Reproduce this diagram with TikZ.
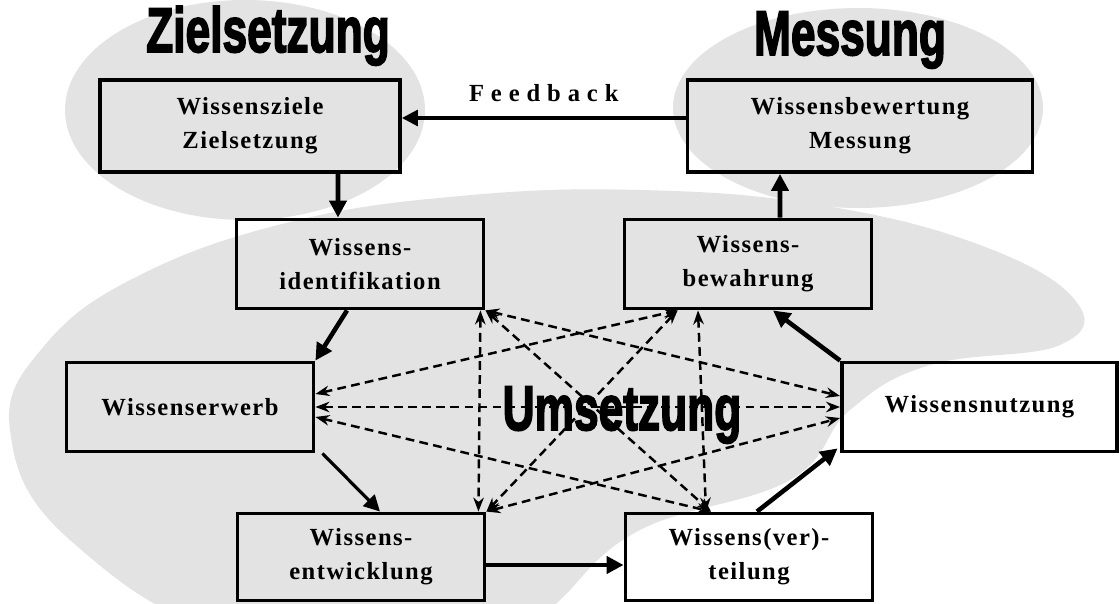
\documentclass[tikz,border=0pt]{standalone}
\usepackage{fontspec}
\setmainfont{Liberation Serif}
\newfontfamily\boxfont{Liberation Serif}[LetterSpace=6]
\newfontfamily\fbfont{Liberation Serif}[LetterSpace=28]
\newfontfamily\titlefont{Liberation Sans}[UprightFont={* Bold}, FakeBold=3]
\usepackage{graphicx}
\usetikzlibrary{positioning,arrows.meta,calc}

\begin{document}
\begin{tikzpicture}[
  box/.style      = {draw, line width=2.2pt, minimum width=4.94cm,
                     minimum height=1.78cm, align=center, inner sep=2pt,
                     font=\boxfont\bfseries\fontsize{14}{19.5}\selectfont},
  bigbox/.style   = {box, minimum height=1.84cm},
  blob/.style     = {fill=gray!22},
  title/.style    = {anchor=base, inner sep=0pt,
                     font=\titlefont\fontsize{36}{36}\selectfont},
  arrow/.style    = {-{Triangle[length=3.4mm,width=3.4mm]}, line width=2.6pt},
  thinarrow/.style= {-{Triangle[length=3.2mm,width=3.2mm]}, line width=1.8pt},
  dasharrow/.style= {{Stealth[length=2.8mm]}-{Stealth[length=2.8mm]},
                     line width=1.4pt, dash pattern=on 5pt off 3pt},
]
\useasboundingbox (0,0) rectangle (22.4,12.06);

% ===== stippled backgrounds =====
\fill[blob] (4.9,9.86) ellipse [x radius=3.6cm, y radius=2.2cm];
\fill[blob] (17.16,9.9) ellipse [x radius=3.7cm, y radius=2.0cm];
\fill[blob] plot[smooth cycle, tension=0.7] coordinates {
  (0.2,3.46) (0.9,5.16) (2.8,6.56) (5.8,7.62) (9.2,8.14) (12.8,8.26)
  (16.4,7.96) (19.6,7.16) (21.5,6.06) (21.2,5.16) (18.6,4.76) (17.0,3.86)
  (15.8,2.46) (12.8,1.46) (11.2,0.06) (10.4,-0.74) (5.0,-0.74) (1.4,1.26)};

% ===== titles =====
\node[title] (tziel) at (5.36,11.02) {\scalebox{0.7}[1]{Zielsetzung}};
\node[title] (tmess) at (17.0,10.96) {\scalebox{0.7}[1]{Messung}};
\node[title] (tums)  at (12.44,3.46) {\scalebox{0.7}[1]{Umsetzung}};

% ===== top row =====
\node[bigbox, minimum width=6.0cm] (ziel) at (5.0,9.54)
      {Wissensziele\\Zielsetzung};
\node[bigbox, minimum width=6.9cm] (bewert) at (17.2,9.54)
      {Wissensbewertung\\Messung};

% ===== building blocks =====
\node[box] (ident)  at (7.2,6.78)   {Wissens-\\identifikation};
\node[box] (bewahr) at (14.96,6.78) {Wissens-\\bewahrung};
\node[box] (erwerb) at (3.8,3.92)   {Wissenserwerb};
\node[box, minimum width=5.5cm] (nutz) at (19.59,3.92) {Wissensnutzung};
\node[box, minimum height=1.74cm] (entw) at (7.22,0.92)
      {Wissens-\\entwicklung};
\node[box, minimum height=1.74cm] (vert) at (14.98,0.92)
      {Wissens(ver)-\\teilung};

% ===== main cycle =====
\draw[thinarrow] ($(bewert.west)+(0,0.16)$) -- ($(ziel.east)+(0,0.16)$)
   node[midway, above=5pt, font=\fbfont\bfseries\fontsize{14}{16}\selectfont]
        {Feedback};
\draw[arrow] ($(ziel.south)+(1.76,0)$) -- ($(ident.north)+(-0.44,0)$);
\draw[arrow] ($(ident.south)+(-0.26,0)$) -- (erwerb.north east);
\draw[thinarrow] ($(erwerb.south east)+(0.14,0)$) -- ($(entw.north)+(0.38,0)$);
\draw[arrow] ($(entw.east)+(0,-0.16)$) -- ($(vert.west)+(0,-0.16)$);
\draw[arrow] ($(vert.north)+(0.16,0)$) -- ($(nutz.south west)+(-0.05,0.1)$);
\draw[arrow] (nutz.north west) -- ($(bewahr.south)+(0.5,0)$);
\draw[arrow] ($(bewahr.north)+(0.64,0)$) -- ($(bewert.south)+(-1.6,0)$);

% ===== cross links =====
\draw[dasharrow] ($(ident.south east)+(-0.1,0)$) -- ($(entw.north east)+(-0.16,0)$);
\draw[dasharrow] ($(bewahr.south)+(-1.0,0)$) -- ($(vert.north)+(-0.86,0)$);
\draw[dasharrow] (erwerb.east) -- (nutz.west);
\draw[dasharrow] ($(erwerb.east)+(0,0.26)$) -- ($(bewahr.south west)+(1.1,0)$);
\draw[dasharrow] ($(erwerb.east)+(0,-0.2)$) -- ($(vert.north)+(-0.76,0)$);
\draw[dasharrow] (ident.south east) -- ($(vert.north)+(-0.76,0)$);
\draw[dasharrow] ($(bewahr.south west)+(1.1,0)$) -- (entw.north east);
\draw[dasharrow] (ident.south east) -- ($(nutz.west)+(0,0.22)$);
\draw[dasharrow] (entw.north east) -- ($(nutz.west)+(0,-0.22)$);

\end{tikzpicture}
\end{document}
